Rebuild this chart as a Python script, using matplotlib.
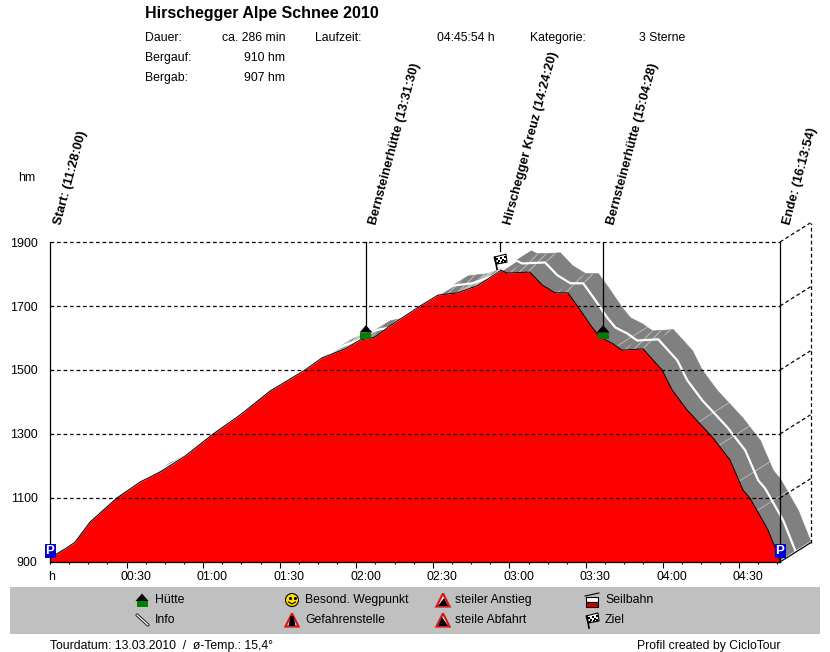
import numpy as np
import matplotlib
matplotlib.use('Agg')
import matplotlib.pyplot as plt
from matplotlib.patches import Polygon, Circle, Rectangle

plt.rcParams['font.family'] = ['Liberation Sans', 'DejaVu Sans']
plt.rcParams['hatch.linewidth'] = 0.8

# Hoehenprofil
minutes = [0, 2, 5.9, 9.8, 15.7, 26.2, 35.3, 43, 52.9, 63.9, 74.4, 86.2, 99.9, 106.6,
           115.6, 121.5, 127.3, 133.2, 145, 152, 159.5, 167.3, 175.1, 176.7, 179, 188,
           192.8, 197.9, 202.9, 206.9, 212.3, 215.5, 220.2, 224.1, 232.3, 239.8, 243.7,
           249.6, 259.4, 266.4, 271.5, 274.2, 281.3, 286]
height = [912, 922, 941, 962, 1025, 1100, 1150, 1181, 1231, 1300, 1359, 1434, 1500, 1538,
          1566, 1594, 1603, 1638, 1700, 1734, 1741, 1763, 1803, 1812, 1803, 1806,
          1766, 1741, 1741, 1697, 1634, 1603, 1584, 1562, 1566, 1500, 1438,
          1375, 1291, 1219, 1125, 1100, 1000, 906]

hut_times = [123.8, 216.7]
hut_heights = [1620, 1620]
flag_time = 176.3
flag_height = 1812
streak_times = [222, 254, 262, 270, 277]

y_ticks = [900, 1100, 1300, 1500, 1700, 1900]
x_ticks = [30, 60, 90, 120, 150, 180, 210, 240, 270]
x_labels = ['00:30', '01:00', '01:30', '02:00', '02:30', '03:00', '03:30', '04:00', '04:30']

title = 'Hirschegger Alpe Schnee 2010'
stops = ['Start: (11:28:00)', 'Bernsteinerhütte (13:31:30)', 'Hirschegger Kreuz (14:24:20)',
         'Bernsteinerhütte (15:04:28)', 'Ende: (16:13:54)']
stop_x = [58, 373, 508, 611, 787]

depth_t = 11.95
depth_h = 60

fig = plt.figure(figsize=(8.3, 6.52), dpi=100)
W, H = 830, 652
ax = fig.add_axes([50 / W, 1 - 562 / H, 730 / W, 320 / H])
ax.set_xlim(0, 286)
ax.set_ylim(900, 1900)
ax.patch.set_visible(False)
for s in ['top', 'right']:
    ax.spines[s].set_visible(False)
ax.spines['left'].set_linewidth(0.9)
ax.spines['bottom'].set_linewidth(0.9)

t = np.array(minutes)
h = np.array(height)

# Band nach hinten
for i in range(len(t) - 1):
    slope = (h[i + 1] - h[i]) / (t[i + 1] - t[i])
    quad = [(t[i], h[i]), (t[i + 1], h[i + 1]),
            (t[i + 1] + depth_t, h[i + 1] + depth_h), (t[i] + depth_t, h[i] + depth_h)]
    if slope > 2:
        face, hatch = '#c0c0c0', '#909090'
    elif slope > -1.5:
        face, hatch = '#808080', '#b8b8b8'
    else:
        face, hatch = '#808080', None
    ax.add_patch(Polygon(quad, facecolor=face, edgecolor=face, lw=0.5, clip_on=False, zorder=1))
    if hatch:
        ax.add_patch(Polygon(quad, facecolor='none', edgecolor=hatch, hatch='////', lw=0,
                             clip_on=False, zorder=1.1))
for st in streak_times:
    hs = np.interp(st, t, h)
    ax.plot([st, st + depth_t], [hs, hs + depth_h], color='#c0c0c0', lw=0.6, clip_on=False, zorder=1.2)
ax.plot(t + depth_t / 2, h + depth_h / 2, color='white', lw=1.6, clip_on=False, zorder=1.3)

ax.fill_between(t, h, 900, color='#ff0000', lw=0, zorder=2)
ax.plot(t, h, color='black', lw=0.7, zorder=2.5)

# Gitter und Rueckwand
for y in y_ticks[1:]:
    ax.plot([0, 286], [y, y], color='black', lw=0.9, ls=(0, (3, 2.2)), clip_on=False, zorder=3)
for y in y_ticks:
    ax.plot([286, 286 + depth_t], [y, y + depth_h], color='black', lw=0.9,
            ls=(0, (3, 2.2)) if y > 900 else '-', clip_on=False, zorder=3)
ax.plot([286 + depth_t] * 2, [900 + depth_h, 1900 + depth_h], color='black', lw=0.9,
        ls=(0, (3, 2.2)), clip_on=False, zorder=3)
ax.plot([286, 286], [900, 1900], color='black', lw=0.9, clip_on=False, zorder=3)

# Wegpunkt-Linien
for tt, hh in zip(hut_times, hut_heights):
    ax.plot([tt, tt], [hh + 20, 1900], color='black', lw=0.9, zorder=3)
ax.plot([flag_time, flag_time], [flag_height + 60, 1900], color='black', lw=0.9, zorder=3)

ax.set_yticks(y_ticks)
ax.set_yticklabels([str(v) for v in y_ticks], fontsize=8.9)
ax.tick_params(axis='y', length=0, pad=9)
ax.set_xticks(x_ticks)
ax.set_xticklabels([])
ax.set_xticks(np.arange(0, 286, 7.5), minor=True)
ax.tick_params(axis='x', which='major', length=4, width=0.8)
ax.tick_params(axis='x', which='minor', length=1.5, width=0.8)
for xt, lb in zip(x_ticks, x_labels):
    ax.annotate(lb, (xt, 900), xytext=(-4.5, -11), textcoords='offset points',
                fontsize=8.9, ha='left', va='center')
ax.annotate('h', (0, 900), xytext=(-1.5, -11), textcoords='offset points',
            fontsize=8.9, ha='left', va='center')

# Ueberlagerung in Pixeln
ov = fig.add_axes([0, 0, 1, 1], zorder=5)
ov.set_xlim(0, W)
ov.set_ylim(H, 0)
ov.axis('off')
ov.patch.set_visible(False)


def txt(x, y, s, ha='left', **kw):
    kw.setdefault('fontsize', 8.8)
    ov.text(x, y, s, ha=ha, va='center', **kw)


def poly(pts, x, y, **kw):
    kw.setdefault('lw', 0)
    ov.add_patch(Polygon([(x + a, y + b) for a, b in pts], **kw))


def house(x, y):
    poly([(-6.5, 1), (0, -6.5), (6.5, 1)], x, y, facecolor='black')
    ov.add_patch(Rectangle((x - 5.5, y + 1), 11, 6, facecolor='#008000', lw=0))


def pbox(x, y):
    ov.add_patch(Rectangle((x - 5.5, y - 7), 11, 14, facecolor='#0000d0', lw=0))
    ov.text(x, y - 0.5, 'P', color='white', fontsize=9.5, weight='bold', ha='center', va='center')


def flag(x, y):
    ov.plot([x - 5, x - 3], [y - 4, y + 8], color='black', lw=1.2)
    poly([(-6, -4), (6, -7), (7, 1), (-4, 3)], x, y, facecolor='white', edgecolor='black', lw=0.8)
    for a, b in [(-4, -3), (0, -4), (4, -5), (-2, -1), (2, -2), (-3, 1), (1, 0), (4, -1)]:
        ov.add_patch(Rectangle((x + a, y + b), 2, 2, facecolor='black', lw=0))


def warn(x, y, inner):
    poly([(-6.5, 6.5), (0, -6.5), (6.5, 6.5)], x, y, facecolor=inner, edgecolor='#d81818', lw=1.6)


def slope_warn(x, y, rising):
    warn(x, y, 'white')
    pts = [(-5, 6), (5, 6), (1, -2)] if rising else [(-5, 6), (5, 6), (-1, -3)]
    poly(pts, x, y, facecolor='black')


pbox(50, 551)
pbox(780, 551)
for tt, hh in zip(hut_times, hut_heights):
    px, py = ax.transData.transform((tt, hh))
    house(px, H - py)
fx, fy = ax.transData.transform((flag_time, flag_height))
flag(fx, H - fy - 9)

# Kopf
txt(145, 13.5, title, fontsize=11.5, weight='bold')
for yy, a, b in [(38, 'Dauer:', 'ca. 286 min'), (58, 'Bergauf:', '910 hm'), (78, 'Bergab:', '907 hm')]:
    txt(145, yy, a)
    txt(285, yy, b, ha='right')
txt(315, 38, 'Laufzeit:')
txt(437, 38, '04:45:54 h')
txt(530, 38, 'Kategorie:')
txt(639, 38, '3 Sterne')
txt(18, 178, 'hm')

for x, s in zip(stop_x, stops):
    ov.text(x, 224, s, rotation=75, rotation_mode='anchor', ha='left', va='center',
            fontsize=9.3, weight='bold')

# Legende
ov.add_patch(Rectangle((10, 587), 810, 47, facecolor='#c0c0c0', lw=0))
house(142, 600)
ov.plot([137, 148], [615, 625], color='black', lw=2.2, solid_capstyle='round')
ov.plot([137, 148], [615, 625], color='white', lw=1, solid_capstyle='round')
ov.add_patch(Circle((292, 600), 6.5, facecolor='#ffe000', edgecolor='black', lw=0.8))
ov.plot([289.5, 294.5], [598, 598], ls='none', marker='.', ms=2.5, color='black')
ov.plot([288.5, 292, 295.5], [602, 604, 602], color='black', lw=0.8)
warn(292, 620, 'white')
poly([(-1.5, -4), (1.5, -4), (3.5, 6), (-3.5, 6)], 292, 620, facecolor='black')
slope_warn(443, 600, True)
slope_warn(443, 620, False)
ov.plot([585, 599], [596, 593], color='black', lw=0.8)
ov.add_patch(Rectangle((586, 597), 12, 5, facecolor='white', edgecolor='black', lw=0.8))
ov.add_patch(Rectangle((586, 602), 12, 4.5, facecolor='#d00000', edgecolor='black', lw=0.8))
flag(592, 620)
for x, y, s in [(155, 600, 'Hütte'), (155, 620, 'Info'), (305, 600, 'Besond. Wegpunkt'),
                (305, 620, 'Gefahrenstelle'), (455, 600, 'steiler Anstieg'),
                (455, 620, 'steile Abfahrt'), (605, 600, 'Seilbahn'), (605, 620, 'Ziel')]:
    txt(x, y, s)

txt(50, 646, 'Tourdatum: 13.03.2010  /  ø-Temp.: 15,4°')
txt(780, 646, 'Profil created by CicloTour', ha='right')

fig.savefig('out.png', dpi=100)
